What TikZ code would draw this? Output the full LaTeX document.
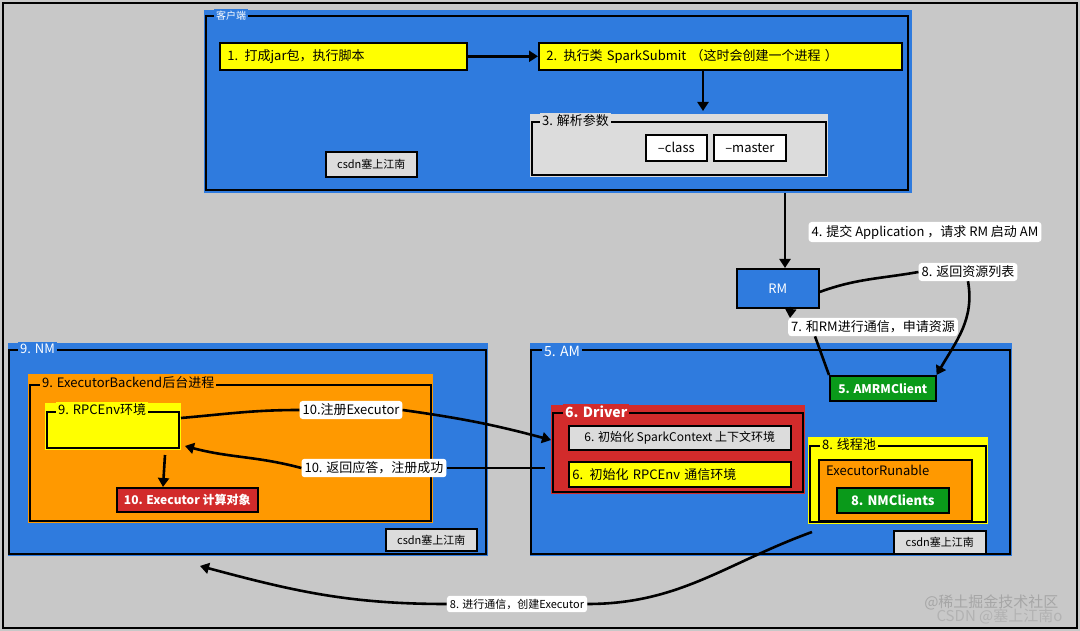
\documentclass[tikz,border=0pt]{standalone}
\usepackage{fontspec}
\setmainfont{Noto Sans CJK SC}
\usetikzlibrary{arrows.meta}
\definecolor{bg}{HTML}{C8C8C8}
\definecolor{blu}{HTML}{2F7BDE}
\definecolor{yel}{HTML}{FFFF00}
\definecolor{org}{HTML}{FF9900}
\definecolor{rd}{HTML}{D22B2B}
\definecolor{grn}{HTML}{0A9A1A}
\definecolor{lg}{HTML}{DCDCDC}
\tikzset{
 x=1pt,y=-1pt,
 fs/.style={font=\fontsize{13}{15}\selectfont},
 box/.style={draw=black,line width=1.6pt,inner sep=0pt,fs,anchor=north west},
 lbl/.style={fill=white,rounded corners=3pt,fs,inner sep=3pt},
 arr/.style={line width=2.6pt,-{Triangle[length=9pt,width=11pt]}},
 ln/.style={line width=2.6pt},
 ttl/.style={anchor=west,fs,inner sep=2pt},
}
\newcommand{\frm}[6]{% fill, x1,y1,x2,y2, title spec
 \fill[#1] (#2,#3) rectangle (#4,#5);
 \draw[line width=1.6pt] (#2+2,#3+7) rectangle (#4-3,#5-2);
}
\begin{document}
\begin{tikzpicture}
\fill[bg] (0,0) rectangle (1080,631);
\draw[line width=1.5pt] (3,3) rectangle (1077,628);
\useasboundingbox (0,0) rectangle (1080,631);
% client
\fill[blu] (204,10) rectangle (912,193);
\draw[line width=1.6pt] (206,16) rectangle (908,190);
\node[ttl,fill=blu,text=white,font=\fontsize{10}{12}\selectfont] (tc) at (214,16) {客户端};
\node[box,fill=yel,minimum width=247pt,minimum height=27pt,text width=240pt,align=left] (n1) at (219,42) {\hspace*{4pt}1. 打成jar包，执行脚本};
\node[box,fill=yel,minimum width=363pt,minimum height=27pt,text width=356pt,align=left] (n2) at (538,42) {\hspace*{4pt}2. 执行类 SparkSubmit （这时会创建一个进程 ）};
\fill[lg] (530,114) rectangle (828,177);
\draw[line width=1.6pt] (532,122) rectangle (826,175);
\node[ttl,fill=lg] (t3) at (540,121) {3. 解析参数};
\node[box,fill=white,minimum width=61pt,minimum height=26pt] (cls) at (645,134) {--class};
\node[box,fill=white,minimum width=72pt,minimum height=26pt] (mst) at (713,134) {--master};
\node[box,fill=lg,minimum width=91pt,minimum height=25pt,font=\fontsize{11}{13}\selectfont] (c1) at (325,151) {csdn塞上江南};
\coordinate (t3top) at (703,111);
\draw[arr] (n1.east) -- (n2.west);
\draw[arr] (n2.south -| t3top) -- (t3top);
% RM
\node[box,fill=blu,text=white,minimum width=82pt,minimum height=39pt] (rm) at (736,268) {RM};
\coordinate (cb) at (785,193);
\draw[arr] (cb) -- (rm.north -| cb);
\node[lbl] (l4) at (925,232) {4. 提交 Application ，请求 RM 启动 AM};
% NM
\fill[blu] (8,343) rectangle (488,556);
\draw[line width=1.6pt] (9,350) rectangle (486,554);
\node[ttl,fill=blu,text=white] (tnm) at (18,349) {9. NM};
\fill[org] (28,374) rectangle (433,523);
\draw[line width=1.6pt] (30,385) rectangle (431,521);
\node[ttl,fill=org] (teb) at (40,383) {9. ExecutorBackend后台进程};
\fill[yel] (45,403) rectangle (181,450);
\draw[line width=1.6pt] (47,412) rectangle (179,448);
\node[ttl,fill=yel] (trp) at (56,410) {9. RPCEnv环境};
\coordinate (rpR) at (181,418);
\coordinate (rpR2) at (185,446);
\node[box,fill=rd,text=white,minimum width=141pt,minimum height=24pt,font=\fontsize{12}{14}\selectfont\bfseries] (ex) at (116,487) {10. Executor 计算对象};
\draw[arr] (165,455) -- (ex.north -| 163,0);
\node[box,fill=lg,minimum width=91pt,minimum height=22pt,font=\fontsize{11}{13}\selectfont] (c2) at (385,528) {csdn塞上江南};
% AM
\fill[blu] (530,343) rectangle (1012,556);
\draw[line width=1.6pt] (531,350) rectangle (1010,554);
\node[ttl,fill=blu,text=white,font=\fontsize{14}{16}\selectfont] (tam) at (542,351) {5. AM};
\node[box,fill=grn,text=white,minimum width=106pt,minimum height=25pt,font=\fontsize{12}{14}\selectfont\bfseries] (amrm) at (829,375) {5. AMRMClient};
\fill[rd] (551,405) rectangle (805,494);
\draw[line width=1.6pt] (553,413) rectangle (803,492);
\node[ttl,fill=rd,text=white,font=\fontsize{14}{16}\selectfont\bfseries] (tdr) at (563,412) {6. Driver};
\node[box,fill=lg,minimum width=222pt,minimum height=24pt,font=\fontsize{12}{14}\selectfont] (sc) at (568,425) {6. 初始化 SparkContext 上下文环境};
\node[box,fill=yel,minimum width=222pt,minimum height=25pt,text width=215pt,align=left] (re) at (568,461) {6. 初始化 RPCEnv 通信环境};
\fill[yel] (808,437) rectangle (988,524);
\draw[line width=1.6pt] (810,446) rectangle (986,522);
\node[ttl,fill=yel] (tpool) at (820,445) {8. 线程池};
\fill[org] (819,460) rectangle (972,521);
\draw[line width=1.6pt] (819,460) rectangle (972,521);
\node[anchor=north west,fs,inner sep=0pt] (er) at (826,465) {ExecutorRunable};
\node[box,fill=grn,text=white,minimum width=112pt,minimum height=25pt,font=\fontsize{13}{15}\selectfont\bfseries] (nmc) at (836,487) {8. NMClients};
\node[box,fill=lg,minimum width=92pt,minimum height=23pt,font=\fontsize{11}{13}\selectfont] (c3) at (893,530) {csdn塞上江南};
% RM <-> AMRMClient
\node[lbl] (l8) at (968,272) {8. 返回资源列表};
\node[lbl] (l7) at (873,327) {7. 和RM进行通信，申请资源};
\draw[ln] (rm.east |- 0,292) to[out=20,in=190] (l8.west);
\draw[arr] (l8.south) to[out=-80,in=60] (amrm.north east);
\draw[ln] (amrm.north west) -- (l7.south -| 815,0);
\draw[arr] (791,307) -- (790,318);
% register
\node[lbl] (l10a) at (351,410) {10.注册Executor};
\node[lbl] (l10b) at (374,468) {10. 返回应答，注册成功};
\coordinate (drL) at (551,440);
\coordinate (drL2) at (545,468);
\draw[ln] (rpR) to[out=5,in=180] (l10a.west);
\draw[arr] (l10a.east) to[out=-8,in=165] (drL);
\draw[ln] (drL2) -- (l10b.east);
\draw[arr] (l10b.west) to[out=165,in=-15] (rpR2);
% create executor
\node[lbl,font=\fontsize{11}{13}\selectfont] (l8b) at (517,604) {8. 进行通信，创建Executor};
\coordinate (pool) at (812,532);
\coordinate (nmb) at (200,566);
\draw[ln] (pool) to[out=200,in=0] (l8b.east);
\draw[arr] (l8b.west) to[out=180,in=-15] (nmb);
% watermark
\node[text=gray!70!white,font=\fontsize{15}{17}\selectfont,anchor=east] (w1) at (1062,602) {@稀土掘金技术社区};
\node[text=gray!60!white,font=\fontsize{15}{17}\selectfont,anchor=east] (w2) at (1066,616) {CSDN @塞上江南o};
\end{tikzpicture}
\end{document}
